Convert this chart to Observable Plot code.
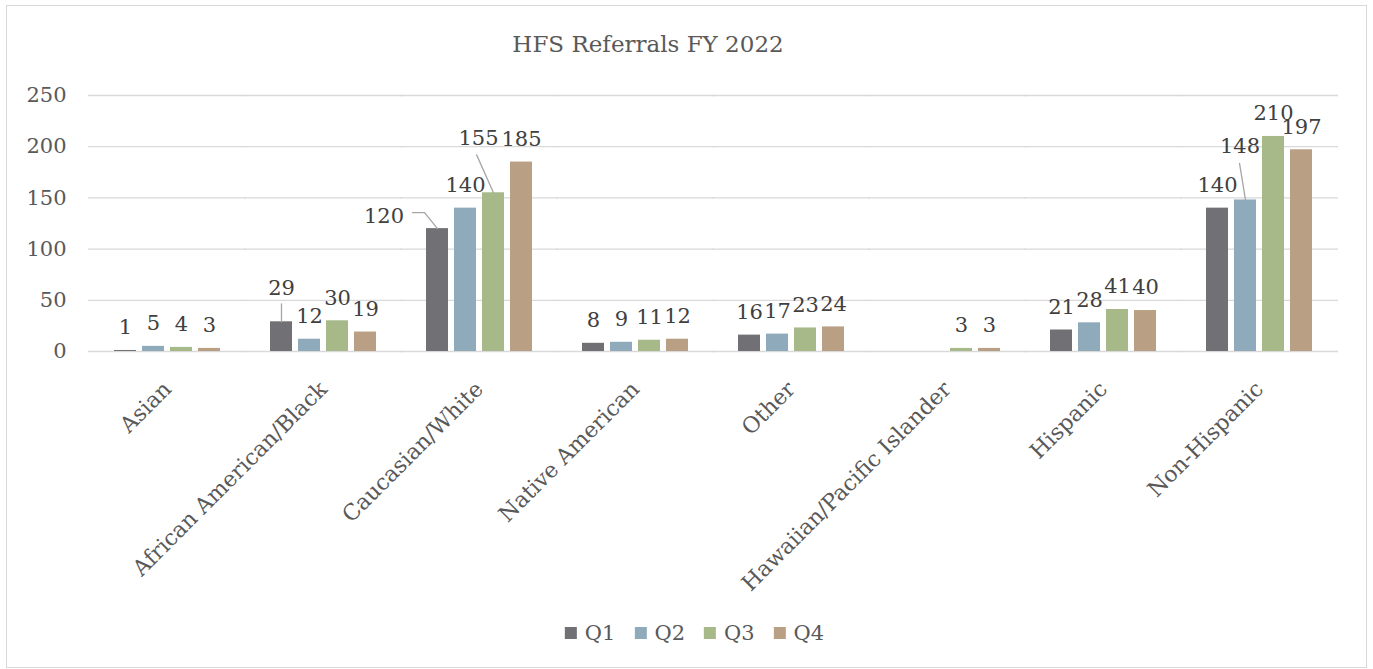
<!DOCTYPE html>
<html><head><meta charset="utf-8">
<script src="https://cdn.jsdelivr.net/npm/d3@7"></script>
<script src="https://cdn.jsdelivr.net/npm/@observablehq/plot@0.6"></script>
<style>
body{margin:0;background:#fff;}
#chart{position:absolute;left:6px;top:5px;width:1359px;height:661px;border:1px solid #d9d9d9;background:#fff;font-family:"DejaVu Serif",serif;overflow:hidden;}
#title{position:absolute;top:23px;left:641px;transform:translateX(-50%);font-size:23px;color:#595959;white-space:nowrap;line-height:30px;}
#plot{position:absolute;left:0;top:0;}
#legend{position:absolute;top:610px;left:697px;transform:translateX(-50%);white-space:nowrap;}
#legend .lg-swatch{margin-right:19px !important;}
#legend .lg-swatch svg{margin-right:8px !important;}
</style></head>
<body><div id="chart"><div id="title">HFS Referrals FY 2022</div><div id="plot"></div><div id="legend"></div></div>
<script>
const categories = ["Asian","African American/Black","Caucasian/White","Native American","Other","Hawaiian/Pacific Islander","Hispanic","Non-Hispanic"];
const quarters = ["Q1","Q2","Q3","Q4"];
const q1 = [1, 29, 120, 8, 16, null, 21, 140];
const q2 = [5, 12, 140, 9, 17, null, 28, 148];
const q3 = [4, 30, 155, 11, 23, 3, 41, 210];
const q4 = [3, 19, 185, 12, 24, 3, 40, 197];
const yTicks = [0, 50, 100, 150, 200, 250];
const colors = ["#707075", "#8faaba", "#a7b889", "#b9a084"];

const series = [q1, q2, q3, q4];
const rows = [];
categories.forEach((c, i) => quarters.forEach((q, j) => {
  const v = series[j][i];
  if (v != null) rows.push({category: c, quarter: q, value: v});
}));

const is = (c, q) => d => d.category === c && d.quarter === q;
const spAA = is("African American/Black", "Q1");
const spC1 = is("Caucasian/White", "Q1");
const spC3 = is("Caucasian/White", "Q3");
const spNH = is("Non-Hispanic", "Q2");
const special = d => spAA(d) || spC1(d) || spC3(d) || spNH(d);

const labelFill = "#404040";
const leader = {stroke: "#a6a6a6", strokeWidth: 1.3, r: 0, anchor: "start"};

const chart = Plot.plot({
  width: 1359,
  height: 600,
  marginTop: 89,
  marginBottom: 255,
  marginLeft: 80,
  marginRight: 27,
  style: {fontFamily: "DejaVu Serif", fontSize: "21px", color: "#595959", background: "transparent"},
  facet: {data: rows, x: "category"},
  fx: {domain: categories, paddingInner: 0.27, paddingOuter: 0.135, label: null, axis: "bottom", tickRotate: -45, tickSize: 0, tickPadding: 34},
  x: {domain: quarters, paddingInner: 0.2, paddingOuter: 0.1, axis: null},
  y: {domain: [0, 250], ticks: yTicks, tickSize: 0, tickPadding: 44, label: null},
  color: {domain: quarters, range: colors},
  marks: [
    Plot.ruleY(yTicks, {stroke: "#d9d9d9", strokeWidth: 1.3, insetLeft: -22, insetRight: -22}),
    Plot.barY(rows, {x: "quarter", y: "value", fill: "quarter"}),
    Plot.text(rows, {filter: d => !special(d), x: "quarter", y: "value", text: d => String(d.value), dy: -23, fill: labelFill}),
    Plot.text(rows, {filter: spAA, x: "quarter", y: "value", text: d => String(d.value), dy: -34, fill: labelFill}),
    Plot.vector(rows, {filter: spAA, x: "quarter", y: "value", length: 18, rotate: 0, ...leader}),
    Plot.text(rows, {filter: spC1, x: "quarter", y: "value", text: d => String(d.value), dx: -53.5, dy: -12.5, fill: labelFill}),
    Plot.vector(rows, {filter: spC1, x: "quarter", y: "value", length: 20.6, rotate: -39, ...leader}),
    Plot.vector(rows, {filter: spC1, x: "quarter", y: "value", length: 12, rotate: -90, dx: -13, dy: -16, ...leader}),
    Plot.text(rows, {filter: spC3, x: "quarter", y: "value", text: d => String(d.value), dx: -15, dy: -54.5, fill: labelFill}),
    Plot.vector(rows, {filter: spC3, x: "quarter", y: "value", length: 41.5, rotate: -24, ...leader}),
    Plot.text(rows, {filter: spNH, x: "quarter", y: "value", text: d => String(d.value), dx: -5.5, dy: -54, fill: labelFill}),
    Plot.vector(rows, {filter: spNH, x: "quarter", y: "value", length: 37, rotate: -9.3, ...leader})
  ]
});
document.getElementById("plot").appendChild(chart);
chart.querySelectorAll("g[aria-label='fx-axis tick label'] text, g[aria-label='fx-axis tick label']").forEach(el => el.style.fontSize = "22px");

const legend = Plot.legend({
  color: {domain: quarters, range: colors},
  legend: "swatches",
  swatchSize: 12,
  className: "lg",
  style: {fontFamily: "DejaVu Serif", fontSize: "21px", color: "#595959"}
});
document.getElementById("legend").appendChild(legend);
</script>
</body></html>
